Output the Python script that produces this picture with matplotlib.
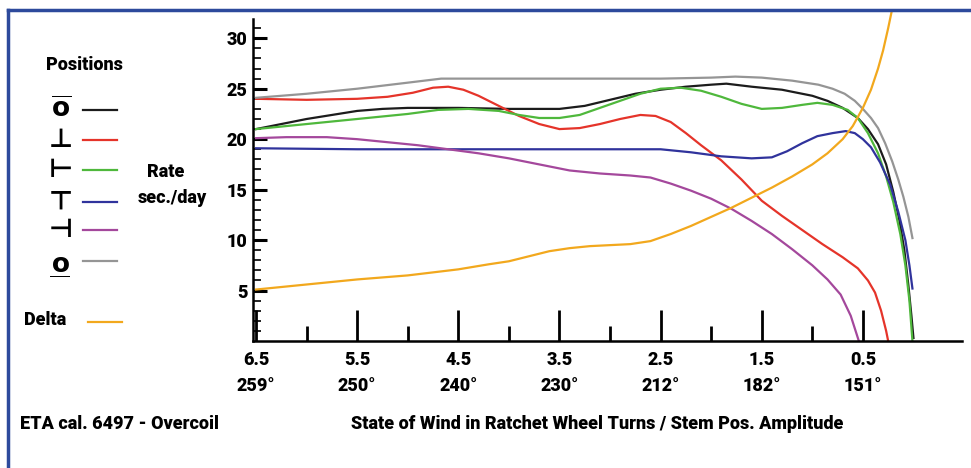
import matplotlib
matplotlib.use("Agg")
import matplotlib.pyplot as plt
from matplotlib.lines import Line2D

plt.rcParams['font.family'] = ['Roboto', 'DejaVu Sans']

# State of wind in ratchet wheel turns
turns_ticks = [6.5, 5.5, 4.5, 3.5, 2.5, 1.5, 0.5]
amp_ticks = [259, 250, 240, 230, 212, 182, 151]

# Rate sec./day per position
dial_up_t = [6.5, 6.25, 6.0, 5.75, 5.5, 5.25, 5.0, 4.5, 4.0, 3.75, 3.5, 3.25, 3.0, 2.75, 2.5, 2.25, 2.0, 1.85, 1.6, 1.3, 1.0, 0.85, 0.7, 0.55, 0.45, 0.35, 0.27, 0.2, 0.14, 0.09, 0.05, 0.02, 0.0]
dial_up_v = [21.0, 21.5, 22.0, 22.4, 22.8, 23.0, 23.1, 23.1, 23.0, 23.0, 23.0, 23.3, 23.9, 24.5, 24.9, 25.2, 25.4, 25.5, 25.2, 24.9, 24.3, 23.8, 23.1, 22.1, 21.0, 19.5, 17.5, 14.8, 12.0, 9.0, 5.5, 2.5, 0.3]

crown_down_t = [6.5, 6.0, 5.5, 5.2, 4.95, 4.75, 4.6, 4.45, 4.3, 4.1, 3.9, 3.7, 3.5, 3.3, 3.1, 2.9, 2.7, 2.55, 2.4, 2.25, 2.1, 1.9, 1.7, 1.5, 1.3, 1.1, 0.9, 0.7, 0.55, 0.45, 0.38, 0.32, 0.27, 0.25]
crown_down_v = [24.0, 23.9, 24.0, 24.2, 24.6, 25.1, 25.2, 24.9, 24.3, 23.3, 22.3, 21.5, 21.0, 21.1, 21.5, 22.0, 22.4, 22.3, 21.7, 20.6, 19.4, 17.9, 16.0, 13.9, 12.4, 11.0, 9.6, 8.3, 7.2, 6.0, 4.8, 3.0, 1.0, 0.0]

crown_left_t = [6.5, 6.0, 5.5, 5.0, 4.7, 4.4, 4.1, 3.9, 3.7, 3.5, 3.3, 3.1, 2.9, 2.7, 2.5, 2.3, 2.1, 1.9, 1.7, 1.5, 1.3, 1.1, 0.95, 0.8, 0.65, 0.55, 0.45, 0.35, 0.27, 0.2, 0.13, 0.08, 0.04, 0.01]
crown_left_v = [21.0, 21.5, 22.0, 22.5, 22.9, 23.0, 22.8, 22.4, 22.1, 22.1, 22.4, 23.1, 23.8, 24.5, 25.0, 25.1, 24.8, 24.2, 23.5, 23.0, 23.1, 23.4, 23.6, 23.4, 22.9, 22.1, 20.6, 18.6, 16.3, 13.8, 10.6, 7.5, 4.0, 0.0]

crown_up_t = [6.5, 5.5, 4.5, 3.5, 2.5, 2.2, 1.9, 1.6, 1.4, 1.25, 1.1, 0.95, 0.8, 0.67, 0.58, 0.5, 0.42, 0.33, 0.23, 0.15, 0.08, 0.04, 0.01]
crown_up_v = [19.1, 19.0, 19.0, 19.0, 19.0, 18.7, 18.3, 18.1, 18.2, 18.8, 19.6, 20.3, 20.6, 20.8, 20.6, 20.0, 19.2, 17.7, 15.5, 12.8, 10.0, 7.5, 5.2]

crown_right_t = [6.5, 6.2, 5.8, 5.5, 5.2, 4.9, 4.6, 4.3, 4.0, 3.7, 3.4, 3.1, 2.8, 2.6, 2.4, 2.2, 2.0, 1.8, 1.6, 1.4, 1.2, 1.0, 0.85, 0.72, 0.62, 0.54]
crown_right_v = [20.1, 20.2, 20.2, 20.0, 19.7, 19.4, 19.0, 18.6, 18.1, 17.5, 16.9, 16.6, 16.4, 16.2, 15.6, 14.9, 14.1, 13.1, 11.9, 10.6, 9.1, 7.5, 6.1, 4.6, 2.5, 0.0]

dial_down_t = [6.5, 6.0, 5.5, 5.0, 4.67, 4.0, 3.0, 2.5, 2.0, 1.76, 1.5, 1.2, 0.94, 0.8, 0.68, 0.58, 0.5, 0.42, 0.35, 0.28, 0.21, 0.15, 0.1, 0.05, 0.01]
dial_down_v = [24.1, 24.5, 25.0, 25.6, 26.0, 26.0, 26.0, 26.0, 26.1, 26.2, 26.1, 25.8, 25.4, 25.0, 24.5, 23.8, 23.0, 22.1, 21.1, 19.6, 17.8, 16.0, 14.3, 12.3, 10.2]

delta_t = [6.5, 6.0, 5.5, 5.0, 4.5, 4.2, 4.0, 3.8, 3.6, 3.4, 3.2, 3.0, 2.8, 2.6, 2.4, 2.2, 2.0, 1.8, 1.6, 1.4, 1.2, 1.0, 0.85, 0.7, 0.6, 0.5, 0.42, 0.35, 0.3, 0.25, 0.2]
delta_v = [5.1, 5.6, 6.1, 6.5, 7.1, 7.6, 7.9, 8.4, 8.9, 9.2, 9.4, 9.5, 9.6, 9.9, 10.6, 11.4, 12.3, 13.2, 14.2, 15.2, 16.3, 17.5, 18.6, 20.0, 21.3, 23.1, 24.9, 27.0, 28.8, 31.0, 33.4]

o_bar = r"$\overline{\mathbf{o}}$"
series = [
    (o_bar, dial_up_t, dial_up_v, '#1c1c1c', 0),
    ("\u22A5", crown_down_t, crown_down_v, '#e5342a', 0),
    ("\u22A2", crown_left_t, crown_left_v, '#4fb83c', 0),
    ("\u22A4", crown_up_t, crown_up_v, '#30339c', 0),
    ("\u22A3", crown_right_t, crown_right_v, '#a4489c', 0),
    (o_bar, dial_down_t, dial_down_v, '#959595', 180),
]

W = 'black'  # heaviest available weight, the source font is a heavy condensed face

fig = plt.figure(figsize=(9.71, 4.68), dpi=100)
ax = fig.add_axes([253/971, 1-341/468, (962-253)/971, 332/468])

for sym, t, v, c, rot in series:
    ax.plot(t, v, color=c, lw=1.6)
ax.plot(delta_t, delta_v, color='#f2a81d', lw=1.6)

ax.set_xlim(6.53, -0.48)
ax.set_ylim(0, 32.9)

for s in ['top', 'right']:
    ax.spines[s].set_visible(False)
ax.spines['left'].set_bounds(0, 31.9)
ax.spines['left'].set_linewidth(1.8)
ax.spines['bottom'].set_linewidth(1.8)

ax.set_yticks([5, 10, 15, 20, 25, 30])
ax.set_yticks(range(1, 32), minor=True)
ax.tick_params(axis='y', which='major', direction='in', length=10, width=2.2,
               labelsize=13, pad=4)
ax.tick_params(axis='y', which='minor', direction='in', length=6, width=1.2)
for lab in ax.get_yticklabels():
    lab.set_fontweight(W)

ax.set_xticks(turns_ticks)
ax.set_xticklabels([f"{t}\n{a}°" for t, a in zip(turns_ticks, amp_ticks)])
ax.set_xticks([6, 5, 4, 3, 2, 1], minor=True)
ax.tick_params(axis='x', which='major', direction='in', length=22, width=2,
               labelsize=13, pad=7)
ax.tick_params(axis='x', which='minor', direction='in', length=11, width=2)
for lab in ax.get_xticklabels():
    lab.set_fontweight(W)
    lab.set_linespacing(1.6)

# texts in pixel-like figure coordinates
def fx(x):
    return x / 971

def fy(y):
    return 1 - y / 468

fig.text(fx(84), fy(65), "Positions", ha='center', va='center', fontsize=13, fontweight=W)
ys = [110, 140, 170, 202, 230, 261]
for (sym, t, v, c, rot), y in zip(series, ys):
    fig.text(fx(61), fy(y), sym, ha='center', va='center', fontsize=19,
             family=['DejaVu Sans'], fontweight='bold', rotation=rot)
    fig.add_artist(Line2D([fx(83), fx(117)], [fy(y), fy(y)], color=c, lw=1.6))
fig.text(fx(45), fy(320), "Delta", ha='center', va='center', fontsize=13, fontweight=W)
fig.add_artist(Line2D([fx(88), fx(122)], [fy(322), fy(322)], color='#f2a81d', lw=1.6))
fig.text(fx(166), fy(172), "Rate", ha='center', va='center', fontsize=13, fontweight=W)
fig.text(fx(172), fy(198), "sec./day", ha='center', va='center', fontsize=13, fontweight=W)

fig.text(fx(20), fy(424), "ETA cal. 6497 - Overcoil", ha='left', va='center', fontsize=13, fontweight=W)
fig.text(fx(597), fy(424), "State of Wind in Ratchet Wheel Turns / Stem Pos. Amplitude",
         ha='center', va='center', fontsize=13, fontweight=W)

# blue frame (top and left edges visible)
fig.add_artist(Line2D([fx(8), 1], [fy(10), fy(10)], color='#2d4a9c', lw=2.5))
fig.add_artist(Line2D([fx(8), fx(8)], [fy(10), 0], color='#2d4a9c', lw=2.5))

fig.savefig("out.png", dpi=100)
